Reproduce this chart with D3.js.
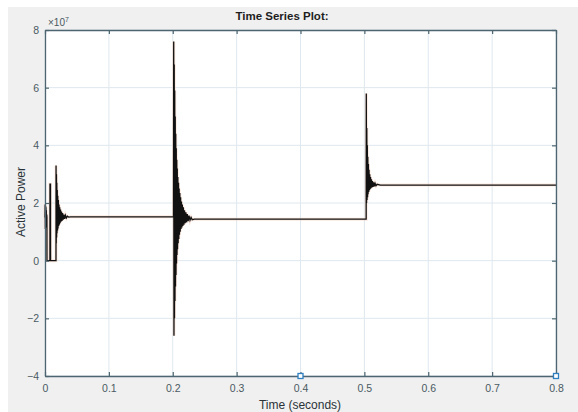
<!DOCTYPE html>
<html>
<head>
<meta charset="utf-8">
<script src="https://cdn.jsdelivr.net/npm/d3@7"></script>
<style>
  body { margin: 0; background: #fff; }
  svg { display: block; font-family: "Liberation Sans", Arial, sans-serif; }
</style>
</head>
<body>
<div class="chart"></div>
<script>
// values are in units of 1e7, time in seconds
var startT = [0, 0.0003, 0.0006, 0.0009, 0.0012, 0.0015, 0.0018, 0.0021, 0.0024, 0.0027, 0.003, 0.0031, 0.0077, 0.0078, 0.0086, 0.0087, 0.0172,
  0.0173, 0.0176, 0.0179, 0.0182, 0.0185, 0.0188, 0.0192, 0.0196, 0.02, 0.0204, 0.0209, 0.0214, 0.0219, 0.0224, 0.023, 0.0236,
  0.0243, 0.025, 0.0258, 0.0266, 0.0275, 0.0285, 0.0296, 0.0308, 0.032, 0.0335, 0.035, 0.037, 0.04];
var startP = [1.5, 1.95, 1.1, 1.9, 1.15, 1.85, 1.2, 1.75, 1.3, 1.6, 1.5, 0, 0, 2.65, 2.65, 0, 0,
  3.3, 0.6, 3.0, 0.8, 2.7, 0.95, 2.45, 1.05, 2.25, 1.12, 2.1, 1.2, 1.95, 1.25, 1.85, 1.3,
  1.77, 1.35, 1.7, 1.38, 1.65, 1.42, 1.6, 1.45, 1.57, 1.48, 1.54, 1.51, 1.52];

var fault1T = [0.2012, 0.2015, 0.2019, 0.2023, 0.2027, 0.2031, 0.2035, 0.2039, 0.2043, 0.2047, 0.2051, 0.2055, 0.2059, 0.2063,
  0.2067, 0.2071, 0.2075, 0.208, 0.2085, 0.209, 0.2095, 0.21, 0.2105, 0.2111, 0.2117, 0.2123, 0.2129, 0.2136, 0.2143, 0.215,
  0.2158, 0.2166, 0.2175, 0.2184, 0.2194, 0.2205, 0.2216, 0.2228, 0.2241, 0.2255, 0.227, 0.2287, 0.2305, 0.234];
var fault1P = [1.52, 7.6, -2.6, 6.8, -2.0, 5.9, -1.4, 5.0, -0.9, 4.4, -0.5, 3.9, -0.1, 3.5,
  0.2, 3.2, 0.4, 2.9, 0.6, 2.7, 0.75, 2.5, 0.9, 2.35, 1.0, 2.2, 1.1, 2.05, 1.15, 1.95,
  1.2, 1.85, 1.25, 1.75, 1.3, 1.68, 1.33, 1.62, 1.37, 1.56, 1.4, 1.5, 1.42, 1.44];

var fault2T = [0.5028, 0.503, 0.5034, 0.5038, 0.5042, 0.5046, 0.505, 0.5054, 0.5058, 0.5063, 0.5068, 0.5073, 0.5078, 0.5084,
  0.509, 0.5096, 0.5103, 0.511, 0.5118, 0.5126, 0.5135, 0.5145, 0.5156, 0.5168, 0.5182, 0.52, 0.525];
var fault2P = [1.44, 5.8, 2.0, 4.6, 2.1, 4.0, 2.2, 3.6, 2.3, 3.35, 2.38, 3.15, 2.44, 3.0,
  2.48, 2.9, 2.51, 2.82, 2.54, 2.76, 2.56, 2.72, 2.58, 2.68, 2.6, 2.65, 2.62];

var endT = [0.8];
var endP = [2.62];

var xTicks = [0, 0.1, 0.2, 0.3, 0.4, 0.5, 0.6, 0.7, 0.8];
var yTicks = [-4, -2, 0, 2, 4, 6, 8];
var markerT = [0.4, 0.8];

var svgWidth = 578;
var svgHeight = 412;
var margin = { top: 30, right: 22, bottom: 36, left: 45 };
var chartWidth = 556 - margin.left;
var chartHeight = 376 - margin.top;

var svg = d3.select(".chart").append("svg")
  .attr("width", svgWidth)
  .attr("height", svgHeight);

// grey figure background
svg.append("rect").attr("x", 8).attr("y", 7).attr("width", svgWidth - 8).attr("height", svgHeight - 7).attr("fill", "#f0f0f0");

var chart = svg.append("g").attr("transform", `translate(${margin.left}, ${margin.top})`);

var x = d3.scaleLinear().domain([0, 0.8]).range([0, chartWidth]);
var y = d3.scaleLinear().domain([-4, 8]).range([chartHeight, 0]);

chart.append("rect").attr("width", chartWidth).attr("height", chartHeight).attr("fill", "#fff");

// grid
chart.selectAll(".gx").data(xTicks).enter().append("line")
  .attr("x1", d => x(d)).attr("x2", d => x(d)).attr("y1", 0).attr("y2", chartHeight)
  .attr("stroke", "#dfe8ee").attr("stroke-width", 1);
chart.selectAll(".gy").data(yTicks).enter().append("line")
  .attr("y1", d => y(d)).attr("y2", d => y(d)).attr("x1", 0).attr("x2", chartWidth)
  .attr("stroke", "#dfe8ee").attr("stroke-width", 1);

// signal
var tAll = startT.concat(fault1T, fault2T, endT);
var pAll = startP.concat(fault1P, fault2P, endP);
var pts = tAll.map((t, i) => [t, pAll[i]]);

var line = d3.line().x(d => x(d[0])).y(d => y(d[1]));
chart.append("path").datum(pts).attr("d", line)
  .attr("fill", "none").attr("stroke", "#f5c2ad").attr("stroke-width", 3).attr("opacity", 0.4);
chart.append("path").datum(pts).attr("d", line)
  .attr("fill", "none").attr("stroke", "#111").attr("stroke-width", 1.3);

// axes (box on, ticks inward)
var axisColor = "#4d6570";
var bottomAxis = chart.append("g").attr("transform", `translate(0, ${chartHeight})`)
  .call(d3.axisBottom(x).tickValues(xTicks).tickSizeInner(-4).tickSizeOuter(0).tickPadding(9).tickFormat(d3.format("")));
var topAxis = chart.append("g")
  .call(d3.axisTop(x).tickValues(xTicks).tickSizeInner(-4).tickSizeOuter(0).tickFormat(""));
var leftAxis = chart.append("g")
  .call(d3.axisLeft(y).tickValues(yTicks).tickSizeInner(-4).tickSizeOuter(0).tickPadding(6).tickFormat(d3.format("")));
var rightAxis = chart.append("g").attr("transform", `translate(${chartWidth}, 0)`)
  .call(d3.axisRight(y).tickValues(yTicks).tickSizeInner(-4).tickSizeOuter(0).tickFormat(""));

[bottomAxis, topAxis, leftAxis, rightAxis].forEach(function(a) {
  a.select(".domain").attr("stroke", axisColor).attr("stroke-width", 1.3);
  a.selectAll(".tick line").attr("stroke", axisColor).attr("stroke-width", 1.2);
  a.selectAll("text").attr("fill", "#4a5a62").attr("font-size", 10.5).attr("font-family", "Liberation Sans, Arial, sans-serif");
});

// blue data-cursor markers
chart.selectAll(".mk").data(markerT).enter().append("rect")
  .attr("x", d => x(d) - 2.5).attr("y", y(-4) - 2.5).attr("width", 5).attr("height", 5)
  .attr("fill", "#fff").attr("stroke", "#2f7fc1").attr("stroke-width", 1.3);

// exponent
var ex = svg.append("text").attr("x", 48).attr("y", 26).attr("font-size", 10).attr("fill", "#4a5a62");
ex.append("tspan").text("\u00d710");
ex.append("tspan").attr("dy", -4).attr("font-size", 7).text("7");

svg.append("text").attr("x", 282).attr("y", 20).attr("text-anchor", "middle")
  .attr("font-size", 11.5).attr("font-weight", "bold").attr("fill", "#1e1e1e")
  .text("Time Series Plot:");

svg.append("text").attr("x", 300).attr("y", 409).attr("text-anchor", "middle")
  .attr("font-size", 12).attr("fill", "#2a3338")
  .text("Time (seconds)");

svg.append("text").attr("transform", "translate(25, 202) rotate(-90)").attr("text-anchor", "middle")
  .attr("font-size", 12).attr("fill", "#2a3338")
  .text("Active Power");
</script>
</body>
</html>
